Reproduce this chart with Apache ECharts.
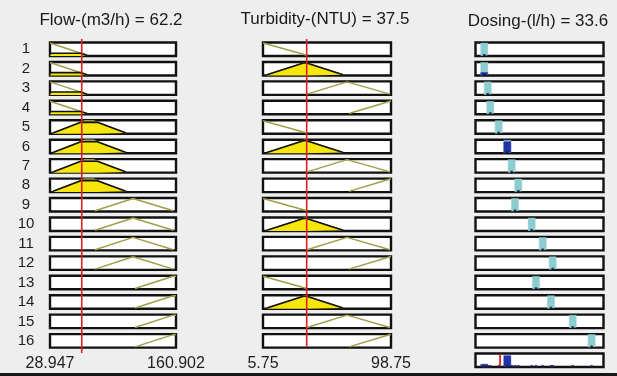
<!DOCTYPE html>
<html><head><meta charset="utf-8">
<script src="https://cdn.jsdelivr.net/npm/echarts@6/dist/echarts.min.js"></script>
<style>html,body{margin:0;padding:0;background:#eeeeee;}#c{width:617px;height:373px;border-bottom:3px solid #161616;}</style>
</head><body><div id="c"></div>
<script>
// ---------------- data ----------------
const rowLabels = ['1','2','3','4','5','6','7','8','9','10','11','12','13','14','15','16'];
const columnTitles = ['Flow-(m3/h) = 62.2', 'Turbidity-(NTU) = 37.5', 'Dosing-(l/h) = 33.6'];
const flowTicks = ['28.947', '160.902'];
const turbTicks = ['5.75', '98.75'];
const flowRange = [28.947, 160.902];
const turbRange = [5.75, 98.75];
const dosingRange = [0, 175];
const flowInput = 62.2;
const turbInput = 37.5;
const dosingOutput = 33.6;
// membership functions (trapezoid a,b,c,d)
const flowMFs = [[28.947, 28.947, 28.947, 67.7], [32.1, 65.6, 74.0, 108.5], [76.1, 115.9, 115.9, 158.1], [118.0, 157.8, 160.902, 160.902]];
const turbMFs = [[5.75, 5.75, 5.75, 37.7], [8.66, 36.3, 36.3, 63.9], [37.7, 66.8, 66.8, 98.0], [68.2, 98.0, 98.75, 98.75]];
// degree of membership of the inputs (read from the yellow fills)
const flowDegree = [0.17, 0.87, 0, 0];
const turbDegree = [0, 0.96, 0, 0];
// rule antecedents
const ruleFlow = [0,0,0,0,1,1,1,1,2,2,2,2,3,3,3,3];
const ruleTurb = [0,1,2,3,0,1,2,3,0,1,2,3,0,1,2,3];
// output MF centres and half width
const dosingCenters = [12.0, 12.0, 16.7, 20.2, 31.7, 43.5, 49.5, 58.5, 54.0, 76.8, 91.9, 105.5, 82.7, 103.2, 132.9, 158.8];
const dosingHalfWidth = 4.8;

// ---------------- layout / style ----------------
const FONT = '"Liberation Sans", Arial, sans-serif';
const ROW_TOP = 42.5, ROW_PITCH = 19.44, ROW_H = 13.5;
const COLS = [{left: 50, width: 126}, {left: 263, width: 128}, {left: 475.5, width: 128}];
const OLIVE = '#a09e48', YELLOW = '#f6e60c', TEAL = '#8ecdcf', BLUE = '#2233a8', RED = '#dc2020';

const grids = [], xAxes = [], yAxes = [], series = [];
function addGrid(g, range, xExtra) {
  const idx = grids.length;
  grids.push(g);
  xAxes.push(Object.assign({type: 'value', gridIndex: idx, min: range[0], max: range[1], show: false}, xExtra || {}));
  yAxes.push({type: 'value', gridIndex: idx, min: -0.06, max: 1.04, show: false});
  return idx;
}
function boxGrid(col, row) {
  return {left: COLS[col].left, width: COLS[col].width, top: ROW_TOP + row * ROW_PITCH, height: ROW_H,
    show: true, backgroundColor: '#ffffff', borderColor: '#111111', borderWidth: 2.4};
}
function line(idx, data, color, width, area, z) {
  series.push({type: 'line', xAxisIndex: idx, yAxisIndex: idx, data: data, showSymbol: false, symbol: 'none',
    lineStyle: {color: color, width: width}, areaStyle: area ? {color: area, opacity: 1, origin: 'start'} : undefined,
    silent: true, z: z || 2, animation: false});
}
function mfPts(m) {
  const p = [];
  if (m[0] !== m[1]) p.push([m[0], 0]);
  p.push([m[1], 1], [m[2], 1]);
  if (m[2] !== m[3]) p.push([m[3], 0]);
  return p;
}
function clipPts(m, h) { return [[m[0], 0], [m[0] + (m[1] - m[0]) * h, h], [m[3] - (m[3] - m[2]) * h, h], [m[3], 0]]; }
function labelAxis(ticks) {
  return {show: true, axisLine: {show: false}, axisTick: {show: false}, splitLine: {show: false},
    axisLabel: {show: true, customValues: ticks.map(Number), formatter: v => ticks[ticks.map(Number).indexOf(v)] || '',
      fontFamily: FONT, fontSize: 16, color: '#1e1e1e', margin: 8, hideOverlap: false}};
}

const strengths = [];
for (let r = 0; r < 16; r++) {
  const fm = flowMFs[ruleFlow[r]], tm = turbMFs[ruleTurb[r]];
  const fd = flowDegree[ruleFlow[r]], td = turbDegree[ruleTurb[r]];
  strengths.push(Math.min(fd, td));
  // flow
  let gi = addGrid(boxGrid(0, r), flowRange, r === 15 ? labelAxis(flowTicks) : null);
  line(gi, mfPts(fm), OLIVE, 1.5);
  if (fd > 0) line(gi, clipPts(fm, fd), '#111', 1.6, YELLOW, 3);
  // turbidity
  gi = addGrid(boxGrid(1, r), turbRange, r === 15 ? labelAxis(turbTicks) : null);
  line(gi, mfPts(tm), OLIVE, 1.5);
  if (td > 0) line(gi, clipPts(tm, td), '#111', 1.6, YELLOW, 3);
  // dosing
  gi = addGrid(boxGrid(2, r), dosingRange);
  const c = dosingCenters[r], w = dosingHalfWidth;
  const blk = [[c - w, 0], [c - w, 1], [c + w, 1], [c + w, 0]];
  line(gi, blk, TEAL, 0.5, TEAL);
  const s = strengths[r];
  if (s > 0) line(gi, [[c - w, 0], [c - w, s], [c + w, s], [c + w, 0]], BLUE, 0.5, BLUE, 3);
  series.push({type: 'scatter', xAxisIndex: gi, yAxisIndex: gi, data: [[c, 0]], symbolSize: 3,
    itemStyle: {color: '#101030'}, z: 4, silent: true, animation: false});
}
// aggregated output row
const ag = addGrid(boxGrid(2, 16), dosingRange);
for (let r = 0; r < 16; r++) {
  const s = strengths[r];
  if (s > 0) {
    const c = dosingCenters[r], w = dosingHalfWidth;
    line(ag, [[c - w, 0], [c - w, s], [c + w, s], [c + w, 0]], BLUE, 0.5, BLUE, 3);
  }
}
series.push({type: 'scatter', xAxisIndex: ag, yAxisIndex: ag, data: dosingCenters.map(c => [c, 0]), symbolSize: 3,
  itemStyle: {color: '#202050'}, z: 4, silent: true, animation: false});
line(ag, [[dosingOutput, 0], [dosingOutput, 1]], RED, 1.8, null, 10);

// red input lines spanning the input columns
const r1 = addGrid({left: COLS[0].left, width: COLS[0].width, top: 39, height: 332, show: false}, flowRange);
line(r1, [[flowInput, 0], [flowInput, 1.04]], RED, 1.6, null, 10);
const r2 = addGrid({left: COLS[1].left, width: COLS[1].width, top: 39, height: 326, show: false}, turbRange);
line(r2, [[turbInput, 0], [turbInput, 1.04]], RED, 1.6, null, 10);

// texts
const graphic = [];
const titleX = [111, 325, 538], titleY = [20, 19, 21];
columnTitles.forEach((t, i) => graphic.push({type: 'text', x: titleX[i], y: titleY[i], z: 20,
  style: {text: t, font: '17px ' + FONT, fill: '#1a1a1a', textAlign: 'center', textVerticalAlign: 'middle'}}));
rowLabels.forEach((t, i) => graphic.push({type: 'text', x: 26, y: ROW_TOP + i * ROW_PITCH + ROW_H / 2, z: 20,
  style: {text: t, font: '15px ' + FONT, fill: '#1e1e1e', textAlign: 'center', textVerticalAlign: 'middle'}}));

const chart = echarts.init(document.getElementById('c'), null, {renderer: 'canvas'});
chart.setOption({animation: false, backgroundColor: '#eeeeee', grid: grids, xAxis: xAxes, yAxis: yAxes, series: series, graphic: graphic});
</script></body></html>
